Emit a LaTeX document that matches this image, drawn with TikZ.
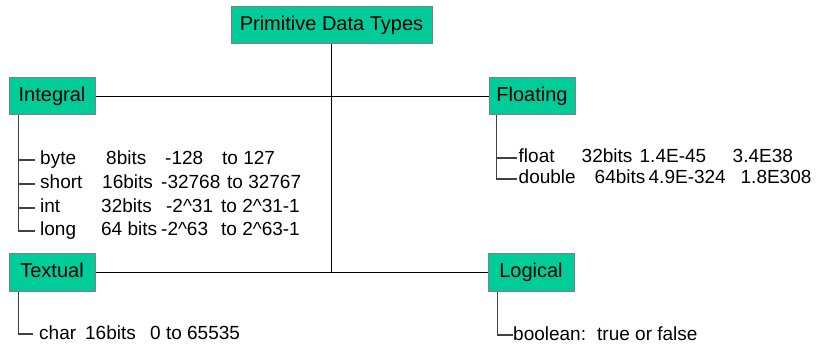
\documentclass[tikz,border=0pt]{standalone}
\usepackage{fontspec}
\setmainfont{Liberation Sans}
\definecolor{typegreen}{RGB}{0,204,153}
\newcommand{\cell}[2]{\makebox[#1][l]{#2}}
\newcommand{\pw}{\textasciicircum}
\tikzset{
	typebox/.style={draw=gray, line width=1pt, fill=typegreen, minimum width=86pt, minimum height=37pt, inner sep=0pt, text height=14pt, text depth=4pt, font=\fontsize{20}{24}\selectfont},
	item/.style={anchor=west, inner ysep=0pt, text height=14pt, text depth=4pt, font=\fontsize{19}{23}\selectfont},
	link/.style={line width=1.2pt},
	tree/.style={line width=1.2pt, black!75}
}
\begin{document}
\begin{tikzpicture}[x=1pt,y=-1pt]
		\useasboundingbox (0,0) rectangle (816,347);

		\node[typebox, minimum width=201pt] (root) at (331.5,25.5) {Primitive Data Types};
		\node[typebox] (integral) at (52,96.5) {Integral};
		\node[typebox] (floating) at (532,96.5) {Floating};
		\node[typebox] (textual) at (52,272.5) {Textual};
		\node[typebox] (logical) at (531,272.5) {Logical};

		\draw[link] (root) -- (root |- textual);
		\draw[link] (integral) -- (floating);
		\draw[link] (textual) -- (logical);

		% integral types
		\node[item, inner xsep=5pt] (byte) at (35,160) {\cell{66pt}{byte}\cell{59pt}{8bits}\cell{57pt}{-128}to 127};
		\node[item, inner xsep=5pt] (short) at (35,184) {\cell{62pt}{short}\cell{59pt}{16bits}\cell{66pt}{-32768}to 32767};
		\node[item, inner xsep=5pt] (int) at (35,208) {\cell{61pt}{int}\cell{65pt}{32bits}\cell{55pt}{-2\pw31}to 2\pw31-1};
		\node[item, inner xsep=5pt] (long) at (35,231) {\cell{61pt}{long}\cell{60pt}{64 bits}\cell{60pt}{-2\pw63}to 2\pw63-1};
		\foreach \r in {byte,short,int,long}
			\draw[tree] ([xshift=10pt]integral.south west) |- (\r.west);

		% floating types
		\node[item, inner xsep=1.5pt] (float) at (517,158) {\cell{63pt}{float}\cell{58pt}{32bits}\cell{93pt}{1.4E-45}3.4E38};
		\node[item, inner xsep=1.5pt] (double) at (517,179) {\cell{76pt}{double}\cell{54pt}{64bits}\cell{92pt}{4.9E-324}1.8E308};
		\foreach \r in {float,double}
			\draw[tree] ([xshift=8pt]floating.south west) |- (\r.west);

		% textual and logical
		\node[item, inner xsep=6pt] (char) at (33,334) {\cell{46pt}{char}\cell{65pt}{16bits}0 to 65535};
		\draw[tree] ([xshift=10pt]textual.south west) |- (char.west);
		\node[item, inner xsep=0pt] (boolean) at (513,335) {\cell{84pt}{boolean:}true or false};
		\draw[tree] ([xshift=10pt]logical.south west) |- (boolean.west);
	\end{tikzpicture}
\end{document}
